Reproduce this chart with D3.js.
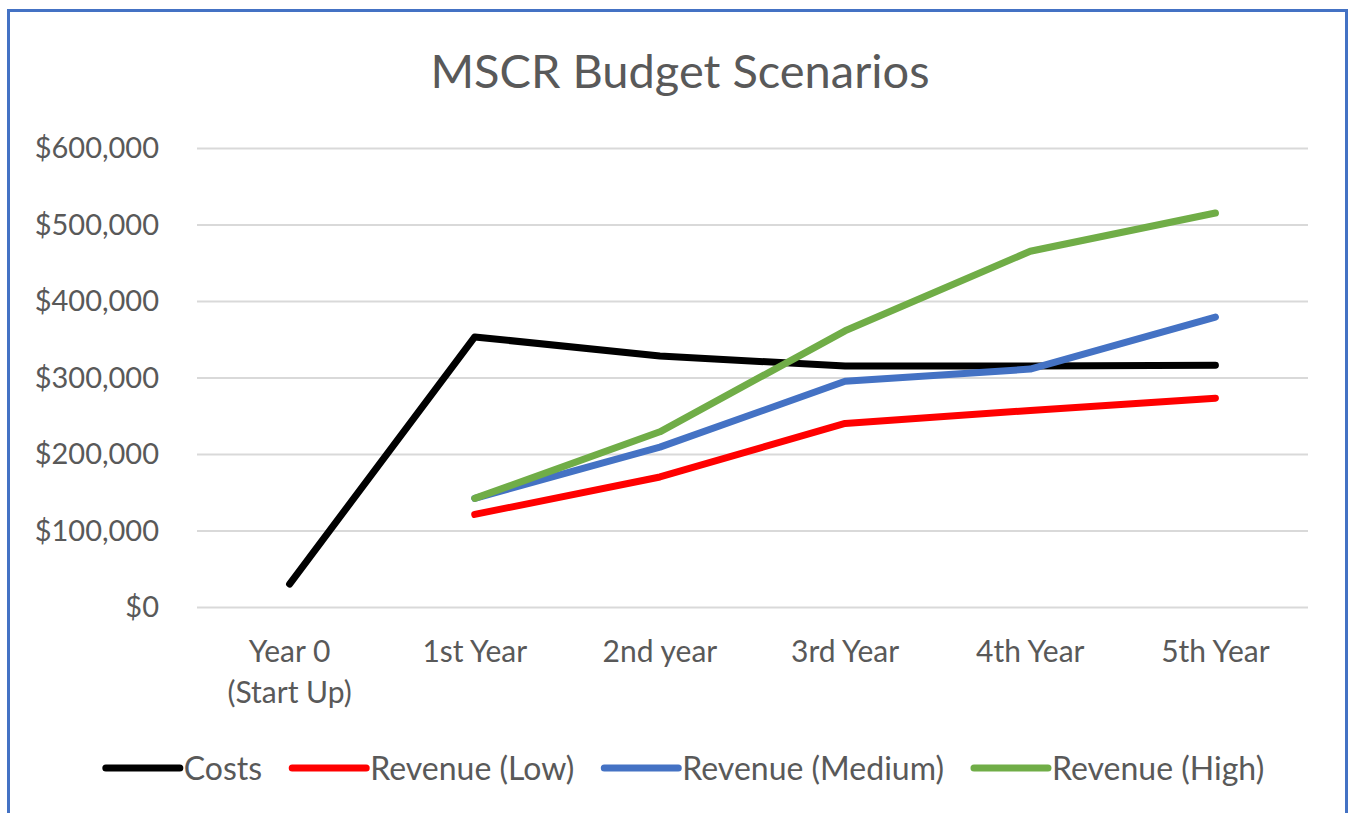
<!DOCTYPE html>
<html>
<head>
<meta charset="utf-8">
<script src="https://cdn.jsdelivr.net/npm/d3@7"></script>
<style>
  body { margin: 0; background: #fff; }
  text { font-family: Lato, "Open Sans", sans-serif; fill: #595959; }
  .grid line { stroke: #d9d9d9; stroke-width: 2; }
  .grid .domain { display: none; }
</style>
</head>
<body>
<svg id="chart" width="1349" height="813"></svg>
<script>
// chart values
var categories = ["Year 0|(Start Up)", "1st Year", "2nd year", "3rd Year", "4th Year", "5th Year"];
var costs = [30000, 353000, 328000, 315000, 315000, 316000];
var revenueLow = [null, 121000, 170000, 240000, 257000, 273000];
var revenueMedium = [null, 142000, 209000, 295000, 311000, 379000];
var revenueHigh = [null, 142000, 229000, 361000, 465000, 515000];
var yTicks = [0, 100000, 200000, 300000, 400000, 500000, 600000];

var series = [
  {name: "Costs", values: costs, color: "#000000"},
  {name: "Revenue (Low)", values: revenueLow, color: "#ff0000"},
  {name: "Revenue (Medium)", values: revenueMedium, color: "#4472c4"},
  {name: "Revenue (High)", values: revenueHigh, color: "#70ad47"}
];

var svg = d3.select("#chart"),
  margin = {top: 148, right: 41, bottom: 206, left: 197},
  width = +svg.attr("width") - margin.left - margin.right,
  height = +svg.attr("height") - margin.top - margin.bottom;

// outer frame
svg.append("rect")
  .attr("x", 8.5).attr("y", 10.5)
  .attr("width", 1338).attr("height", 830)
  .attr("fill", "#fff")
  .attr("stroke", "#4472c4")
  .attr("stroke-width", 3);

var g = svg.append("g").attr("transform", "translate(" + margin.left + "," + margin.top + ")");

var x = d3.scaleBand()
  .domain(categories)
  .range([0, width]);

var y = d3.scaleLinear()
  .domain([0, 600000])
  .range([height, 0]);

// gridlines
g.append("g")
  .attr("class", "grid")
  .call(d3.axisLeft(y).tickValues(yTicks).tickSize(-width).tickFormat(""))
  .selectAll(".tick text").remove();

// y labels
g.selectAll(".ylab")
  .data(yTicks)
  .enter().append("text")
  .attr("class", "ylab")
  .attr("x", -38)
  .attr("y", function (d) { return y(d); })
  .attr("dy", "0.36em")
  .attr("text-anchor", "end")
  .style("font-size", "29px")
  .text(function (d) { return "$" + d3.format(",")(d); });

// x labels
var xl = g.selectAll(".xlab")
  .data(categories)
  .enter().append("text")
  .attr("class", "xlab")
  .attr("text-anchor", "middle")
  .attr("transform", function (d) { return "translate(" + (x(d) + x.bandwidth() / 2) + "," + (height + 55) + ")"; })
  .style("font-size", "30px");
xl.selectAll("tspan")
  .data(function (d) { return d.split("|"); })
  .enter().append("tspan")
  .attr("x", 0)
  .attr("dy", function (d, i) { return i ? 41 : 0; })
  .text(function (d) { return d; });

var line = d3.line()
  .defined(function (d) { return d != null; })
  .x(function (d, i) { return x(categories[i]) + x.bandwidth() / 2; })
  .y(function (d) { return y(d); });

g.selectAll(".series")
  .data(series)
  .enter().append("path")
  .attr("class", "series")
  .attr("fill", "none")
  .attr("stroke", function (d) { return d.color; })
  .attr("stroke-width", 7)
  .attr("stroke-linecap", "round")
  .attr("stroke-linejoin", "round")
  .attr("d", function (d) { return line(d.values); });

// title
svg.append("text")
  .attr("x", 680)
  .attr("y", 88)
  .attr("text-anchor", "middle")
  .style("font-size", "47px")
  .text("MSCR Budget Scenarios");

// legend
var legend = svg.append("g").attr("transform", "translate(0,768)");
var items = legend.selectAll(".item")
  .data(series)
  .enter().append("g")
  .attr("class", "item");
items.append("line")
  .attr("x1", 3).attr("x2", 77)
  .attr("stroke", function (d) { return d.color; })
  .attr("stroke-width", 7)
  .attr("stroke-linecap", "round");
items.append("text")
  .attr("x", 81)
  .attr("dy", "0.36em")
  .style("font-size", "32px")
  .text(function (d) { return d.name; });

var gap = 30, pos = 0, offsets = [];
items.each(function () {
  offsets.push(pos);
  pos += this.getBBox().width + gap;
});
var total = pos - gap, start = 682 - total / 2;
items.attr("transform", function (d, i) { return "translate(" + (start + offsets[i]) + ",0)"; });
</script>
</body>
</html>
